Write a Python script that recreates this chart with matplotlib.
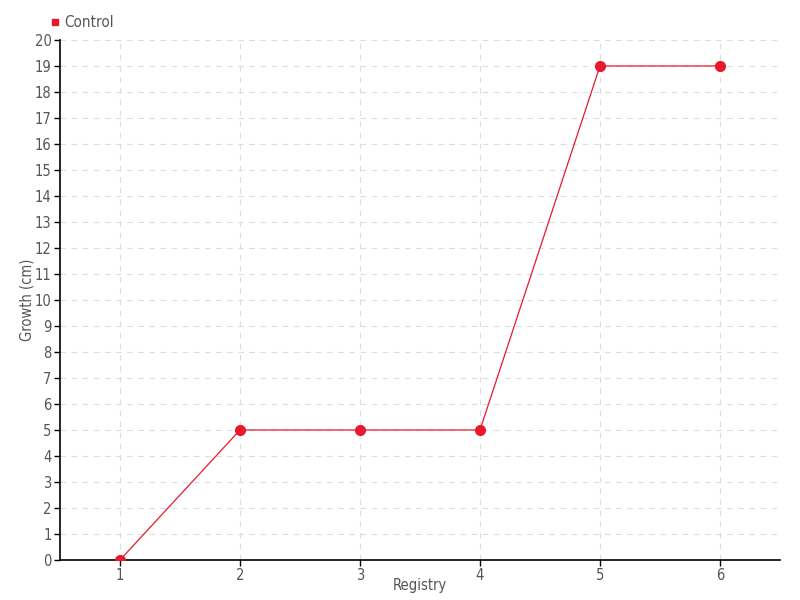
import matplotlib.pyplot as plt
from matplotlib.lines import Line2D

plt.rcParams['font.family'] = ['DejaVu Sans']
plt.rcParams['font.stretch'] = 'condensed'

# Data
registry = [1, 2, 3, 4, 5, 6]
growth = [0, 5, 5, 5, 19, 19]

red = '#e8192c'
text_color = '#555555'

fig = plt.figure(figsize=(8, 6), dpi=100)
ax = fig.add_axes([0.075, 0.0667, 0.9, 0.8667])

ax.plot(registry, growth, color=red, linewidth=0.9, marker='o', markersize=7,
        markerfacecolor=red, markeredgecolor=red, zorder=3)

ax.set_xlim(0.5, 6.5)
ax.set_ylim(0, 20)
ax.set_xticks(registry)
ax.set_yticks(range(0, 21))

ax.grid(True, linestyle=(0, (5, 5)), color='#dddddd', linewidth=0.8)
ax.set_axisbelow(True)

for s in ['top', 'right']:
    ax.spines[s].set_visible(False)
for s in ['left', 'bottom']:
    ax.spines[s].set_linewidth(1.2)
    ax.spines[s].set_color('black')

ax.tick_params(axis='both', length=4, width=1, colors='black',
               labelcolor=text_color, labelsize=10.5, pad=2)

ax.set_xlabel('Registry', color=text_color, fontsize=10.5, labelpad=-4)
ax.set_ylabel('Growth (cm)', color=text_color, fontsize=10.5)
ax.yaxis.set_label_coords(-0.036, 0.5)

handle = Line2D([], [], linestyle='none', marker='s', markersize=5,
                color=red)
leg = fig.legend([handle], ['Control'], loc='upper left',
                 bbox_to_anchor=(0.055, 0.985), frameon=False,
                 handlelength=0.6, handletextpad=0.3, fontsize=11,
                 borderaxespad=0)
for t in leg.get_texts():
    t.set_color(text_color)

fig.savefig('out.png', dpi=100)
